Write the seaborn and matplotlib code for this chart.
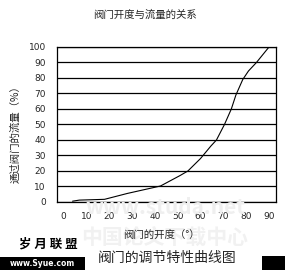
import matplotlib
matplotlib.use("Agg")
import matplotlib.pyplot as plt
import seaborn as sns
import pandas as pd
from matplotlib.patches import Rectangle

# Data
opening_deg = [4, 7, 18, 28, 42.5, 51, 54.5, 60, 64.5, 67, 70.5, 73.5, 75.5, 78.5, 81, 84.5, 90]
flow_pct = [0.5, 1.2, 1.7, 5.5, 10.3, 17, 20, 28, 36, 40, 50, 60, 69, 79, 84.5, 90, 100]
x_ticks = [0, 10, 20, 30, 40, 50, 60, 70, 80, 90]
y_ticks = [0, 10, 20, 30, 40, 50, 60, 70, 80, 90, 100]

title = "阀门开度与流量的关系"
x_label = "阀门的开度（°）"
y_label = "通过阀门的流量（%）"
caption = "阀门的调节特性曲线图"

df = pd.DataFrame({"开度": opening_deg, "流量": flow_pct})

sns.set_style("white")
plt.rcParams["font.family"] = ["Noto Sans CJK SC", "DejaVu Sans"]

fig = plt.figure(figsize=(2.85, 2.70), dpi=100)
ax = fig.add_axes([0.2, 0.252, 0.768, 0.574])

sns.lineplot(data=df, x="开度", y="流量", ax=ax, color="black", linewidth=0.8)

ax.set_xlim(-2.8, 93)
ax.set_ylim(0, 100)
ax.set_xticks(x_ticks)
ax.set_yticks(y_ticks)
ax.set_xticklabels([str(v) for v in x_ticks], fontsize=6.5, family="DejaVu Sans")
ax.set_yticklabels([str(v) for v in y_ticks], fontsize=6.5, family="DejaVu Sans")
ax.tick_params(axis="x", length=2, width=0.8, color="black", pad=5)
ax.tick_params(axis="y", length=2, width=0.8, color="black", pad=6)
ax.yaxis.grid(True, color="black", linewidth=0.9)
ax.set_axisbelow(True)
for s in ax.spines.values():
    s.set_color("black")
    s.set_linewidth(0.9)
ax.set_xlabel("")
ax.set_ylabel("")

# Titles and labels
fig.text(145 / 285, 1 - 15 / 270, title, ha="center", va="center", fontsize=7.5)
fig.text(15 / 285, 1 - 132 / 270, y_label, ha="center", va="center",
         rotation=90, fontsize=7.5)
fig.text(161 / 285, 1 - 236 / 270, x_label, ha="center", va="center", fontsize=7.5)

# Faint watermarks
fig.text(165 / 285, 1 - 208 / 270, "www.studa.net", ha="center", va="center",
         fontsize=15, color="#efefef", zorder=0, weight="bold")
fig.text(165 / 285, 1 - 238 / 270, "中国论文下载中心", ha="center", va="center",
         fontsize=15, color="#f1f1f1", zorder=0, weight="bold")

# Bottom caption area
fig.text(48 / 285, 1 - 244 / 270, "岁 月 联 盟", ha="center", va="center",
         fontsize=9, weight="bold", color="black")
fig.patches.append(Rectangle((0, 0), 85 / 285, 13 / 270, transform=fig.transFigure,
                             facecolor="black", edgecolor="none"))
fig.text(42 / 285, 1 - 263 / 270, "www.Syue.com", ha="center", va="center",
         fontsize=5.5, color="white", family="DejaVu Sans", weight="bold")
fig.text(167 / 285, 1 - 258 / 270, caption, ha="center", va="center", fontsize=10)
fig.patches.append(Rectangle((262 / 285, 0), 23 / 285, 14 / 270, transform=fig.transFigure,
                             facecolor="black", edgecolor="none"))

fig.savefig("out.png", dpi=100)
